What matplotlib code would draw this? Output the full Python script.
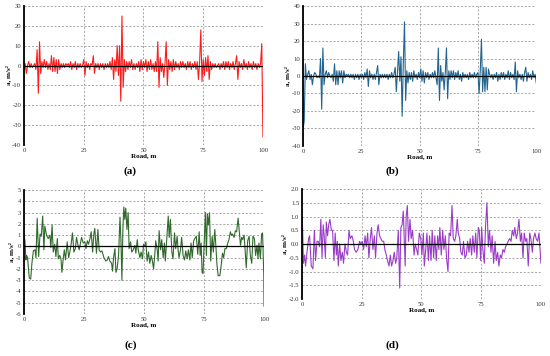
import numpy as np
import matplotlib
matplotlib.use("Agg")
import matplotlib.pyplot as plt

plt.rcParams["font.family"] = ["Liberation Serif", "DejaVu Serif"]
plt.rcParams["axes.unicode_minus"] = False

# ---- data ----
road_ab = np.arange(0, 100.01, 0.5)

accel_a = [
    -2, 1, -4, 0, 2, -1, 1, -1, 0, 1, -2, 8, -14, 12, -4, 2, -1, 3, -1, 2,
    -2, 1, -2, 5, -3, 4, -3, 3, -4, 3, -2, 1, -1, 1, -1, 1, 0, 1, -1, 2,
    -2, 1, -1, 2, -2, 1, -1, 1, -1, 0, 3, -5, 2, -1, 1, -2, 1, 0, 5, -4,
    1, -1, 1, -2, 1, -1, 1, -2, 1, -1, 1, -1, 2, -2, 4, -7, 3, -3, 10, -5,
    10, -18, 25, -11, 3, -3, 2, -2, 2, -1, 3, -2, 1, -2, 1, -1, 2, -3, 3, -2,
    2, -1, 3, -3, 2, -2, 3, -2, 1, -3, 2, -3, 12, -11, 4, -3, 1, -6, 1, 12,
    -10, 3, -2, 2, -3, 3, -2, 2, -1, 1, -2, 2, -1, 2, -1, 1, -2, 2, -1, 2,
    -2, 1, -1, 2, -2, 2, -7, 2, 18, -8, 3, -5, 4, -3, 5, -7, 2, -2, 1, -1,
    1, -1, 0, 1, -2, 1, -1, 2, -2, 2, -1, 2, -2, 1, -1, 2, -2, 1, 5, -7,
    2, -1, 1, -2, 3, -1, 1, -2, 2, -1, 1, -2, 2, -1, 1, -2, 1, -1, 1, 11,
    -36,
]

accel_b = [
    -30, -26, 7, -2, 1, 3, -2, 1, -5, 0, 2, 1, -1, 0, -1, 10, -19, 16, -5, 1,
    3, -1, 2, 0, -1, 1, -3, 7, -5, 3, -5, 3, -1, 3, -4, 3, -1, 1, 0, 1,
    -1, 1, -1, 1, -2, 1, -1, 1, -2, 1, -1, 1, -2, 2, -1, 4, -6, 3, -1, 1,
    -2, 1, -2, 2, 6, -5, 1, -1, 1, -1, 1, -1, 1, -2, 1, -1, 2, -1, 1, 5,
    -9, 3, 14, -3, 11, -23, 8, 31, -14, 3, -4, 2, -2, 2, -3, 3, -1, 1, -2, 2,
    -1, 4, -3, 3, -4, 2, -1, 2, -2, 1, -1, 2, -1, 3, -1, -5, 16, -14, 6, -3,
    2, -8, 2, 16, -13, 3, -2, 3, -1, 3, -2, 2, -1, 3, -2, 1, -3, 2, -1, 1,
    -1, 1, -2, 2, -1, 1, -1, 2, -1, 1, 2, -10, 3, 21, -9, 5, -9, 5, -8, 4,
    1, -1, 1, -2, 1, -1, 2, -3, 1, -2, 2, -1, 2, -2, 1, -1, 3, -2, 2, -1,
    1, -2, 8, -9, 3, -1, 1, -2, 1, -3, 2, 5, -3, 2, -1, 1, -2, 3, -1, 1,
    -4,
]

road_c = [
    0, 0.4, 0.8, 1.1, 1.5, 2.2, 2.8, 3.3, 3.9, 4.6, 5.0, 5.5, 6.1, 6.7, 7.2,
    7.8, 8.3, 8.7, 9.4, 10.1, 10.8, 11.2, 11.7, 12.2, 12.8, 13.3, 13.9, 14.3,
    14.9, 15.4, 15.8, 16.4, 16.8, 17.3, 18.0, 18.6, 19.1, 19.7, 20.2, 20.8,
    21.4, 21.9, 22.5, 23.0, 24.0, 24.7, 25.4, 25.8, 26.4, 26.9, 27.5, 28.0,
    28.6, 29.1, 29.5, 30.2, 30.8, 31.3, 31.9, 32.5, 33.3, 34.1, 34.7, 35.2,
    35.8, 36.5, 36.9, 37.3, 37.9, 38.3, 38.8, 39.4, 40.0, 40.4, 40.8, 41.2,
    41.6, 42.0, 42.4, 42.9, 43.4, 43.8, 44.4, 44.9, 45.5, 46.2, 46.6, 47.2,
    47.6, 48.3, 48.8, 49.4, 49.8, 50.3, 50.8, 51.3, 51.9, 52.4, 53.0, 53.5,
    54.0, 54.5, 54.9, 55.5, 55.9, 56.3, 56.9, 57.4, 58.0, 58.5, 58.9, 59.5,
    60.1, 60.5, 61.0, 61.6, 62.1, 62.7, 63.2, 63.8, 64.2, 64.6, 65.2, 65.7,
    66.3, 66.9, 67.4, 68.0, 68.5, 69.1, 69.6, 70.1, 70.7, 71.2, 71.8, 72.4,
    73.0, 73.4, 73.8, 74.2, 74.6, 75.2, 75.6, 76.0, 76.4, 76.8, 77.3, 77.8,
    78.4, 78.9, 79.5, 79.9, 80.4, 80.9, 81.6, 82.1, 82.7, 83.2, 83.7, 84.3,
    84.9, 85.4, 86.0, 86.4, 86.9, 87.5, 88.1, 88.6, 89.2, 89.6, 90.2, 90.7,
    91.1, 91.7, 92.1, 92.6, 93.2, 93.8, 94.3, 94.9, 95.4, 96.0, 96.5, 97.1,
    97.5, 97.9, 98.5, 99.0, 99.4, 99.9, 100.0,
]
accel_c = [
    1.0, 0.5, -1.2, -0.8, -1.0, -2.8, -2.9, -1.5, -0.4, -0.3, -1.0, 2.5, -0.9,
    1.1, 0.9, 2.7, -0.3, 1.8, 1.0, 0.7, 1.0, -0.1, 1.9, -0.5, 0.2, -0.9, 0.7,
    -1.1, -0.8, -1.1, -2.3, -1.0, -0.3, -1.2, 0.4, -1.0, -0.5, 0.3, 1.2,
    -0.5, -0.2, 0.8, 0.1, -0.3, 0.8, 0.3, 0.4, -0.2, 0.5, 0.2, 0.7, 1.3,
    -0.5, 1.1, 1.6, -0.6, 1.5, -0.3, -0.5, -0.4, -1.0, -1.3, -1.2, -0.9,
    -1.3, -1.5, -2.2, -1.0, -0.2, -2.3, -2.0, -0.8, 2.6, 0.5, -3.0, 1.5,
    3.5, 2.4, 3.4, 1.5, 3.0, -0.2, 0.4, -0.5, -0.3, 0.1, -0.6, 0.6, -0.3,
    -1.0, -0.5, -1.1, 0.2, 0.0, 0.4, -1.3, -0.5, -1.5, -0.8, -1.3, -2.0,
    -0.7, 0.5, -0.3, -1.3, 1.4, -0.3, 0.6, -1.0, 0.3, -1.3, 0.7, 2.7, 0.8,
    2.4, -0.5, -1.1, 1.2, -0.2, 0.9, -0.3, -1.0, -0.3, 0.8, -0.8, -1.2,
    -0.4, -1.1, -0.3, -1.2, 0.3, -1.0, 0.5, 0.7, 0.9, -0.7, 1.3, -0.8, 0.3,
    -2.3, -2.4, 1.0, 3.0, -0.8, 2.9, 1.9, 3.0, -1.3, 0.9, -0.5, 1.5, 0.2,
    -1.6, -2.6, -2.6, -1.8, -0.6, -1.0, -0.2, -0.2, 0.3, 0.6, 1.3, 1.0,
    1.1, 0.8, 1.4, 1.3, 2.5, 1.6, 0.1, 0.8, 0.6, 1.0, -0.2, -1.9, 0.5, 0.9,
    -0.8, -1.5, 0.9, 0.7, -0.8, 0.1, -1.1, 0.3, -1.1, 1.1, 1.2, -2.5, -5.3,
]

road_d = [
    0, 0.3, 0.6, 1.1, 1.5, 2.1, 2.8, 3.2, 3.9, 4.6, 5.2, 5.7, 6.3, 6.8, 7.4,
    7.9, 8.4, 8.9, 9.3, 9.8, 10.2, 10.7, 11.2, 11.7, 12.3, 12.8, 13.4, 13.9,
    14.4, 14.8, 15.2, 15.8, 16.3, 16.9, 17.4, 18.0, 18.6, 19.1, 19.7, 20.2,
    20.9, 21.5, 22.0, 22.7, 23.4, 24.1, 24.7, 25.2, 25.8, 26.4, 26.9, 27.5,
    28.0, 28.6, 29.1, 29.7, 30.3, 30.8, 31.4, 31.9, 32.5, 33.0, 33.6, 34.2,
    34.7, 35.3, 35.8, 36.4, 37.0, 37.5, 38.1, 38.6, 39.2, 39.7, 40.3, 40.9,
    41.4, 41.9, 42.4, 42.8, 43.2, 43.6, 44.1, 44.6, 45.2, 45.7, 46.3, 46.9,
    47.4, 48.0, 48.5, 49.1, 49.7, 50.2, 50.8, 51.2, 51.7, 52.3, 52.9, 53.4,
    54.0, 54.5, 55.1, 55.6, 56.2, 56.8, 57.3, 57.7, 58.3, 58.9, 59.4, 60.0,
    60.5, 61.1, 61.6, 62.2, 62.8, 63.3, 63.9, 64.4, 65.0, 65.4, 66.0, 66.5,
    67.1, 67.6, 68.2, 68.8, 69.3, 69.9, 70.4, 71.0, 71.5, 72.1, 72.7, 73.2,
    73.8, 74.2, 74.8, 75.2, 75.7, 76.3, 76.8, 77.4, 78.0, 78.5, 79.1, 79.6,
    80.2, 80.8, 81.3, 81.9, 82.4, 83.0, 83.5, 84.1, 84.7, 85.2, 85.8, 86.3,
    86.9, 87.5, 88.0, 88.6, 89.1, 89.7, 90.2, 90.8, 91.4, 91.9, 92.5, 93.0,
    93.6, 94.1, 94.7, 95.3, 95.8, 96.4, 96.9, 97.5, 98.0, 98.6, 99.2, 99.7,
    100.0,
]
accel_d = [
    1.0, 0.5, -0.7, -0.4, -0.8, -0.3, 0.2, 0.3, -0.8, -0.9, 0.5, -0.6, 0.1,
    0.1, -0.1, 0.9, -0.5, 0.7, 0.3, -0.5, 0.8, 0.3, 0.7, 0.9, 0.5, 0.5,
    -0.6, 0.4, -0.4, 0.1, -0.8, 0.0, -0.6, -0.3, -0.7, 0.0, -0.3, -0.4, 0.5,
    0.2, 0.3, 0.1, -0.2, -0.3, -0.2, 0.1, 0.0, 0.1, -0.2, 0.3, -0.1, 0.4,
    -0.5, 0.2, 0.6, -0.2, 0.3, -0.5, 0.4, 0.7, 0.3, 0.2, 0.1, 0.1, -0.2,
    -0.4, -0.6, -0.8, -0.4, -0.8, -0.6, -0.3, -0.7, -0.5, 0.5, -1.6, 0.6,
    0.7, 1.2, 0.2, -0.8, 1.0, 1.4, 0.1, 0.9, 0.2, 0.5, -0.4, 0.0, -0.2,
    -0.4, 0.4, 0.2, -0.4, 0.4, -0.8, -0.3, 0.4, -0.6, 0.3, -0.6, 0.5, -0.5,
    0.3, -0.6, 0.3, -0.2, 0.6, -0.4, 0.5, -0.2, 0.3, -0.5, -1.0, 0.4, 0.3,
    1.4, 0.2, 0.1, 0.3, 0.9, 0.4, 0.2, -0.3, -0.4, 0.1, -0.5, -0.4, 0.1,
    -0.3, 0.2, -0.4, 0.3, -0.3, 0.4, -0.5, 0.6, 0.5, -0.6, 0.6, -0.2, -0.7,
    0.6, 1.5, -0.1, 0.5, -0.3, 0.3, -0.7, 0.1, -0.6, -0.3, -0.8, -0.4,
    -0.5, -0.2, -0.3, -0.1, 0.0, 0.1, 0.2, 0.1, 0.5, 0.3, 0.6, 0.2, 0.4,
    0.9, 0.1, 0.4, -0.5, 0.4, 0.1, 0.2, -0.8, 0.4, 0.2, -0.3, 0.2, 0.4, 0.2,
    0.1, 0.4, -0.3, -0.7,
]

road_ticks = [0, 25, 50, 75, 100]


def style_axes(ax, yticks, ylim, fmt):
    ax.set_xlim(0, 100)
    ax.set_ylim(*ylim)
    ax.set_xticks(road_ticks)
    ax.set_yticks(yticks)
    ax.set_yticklabels([fmt.format(v) for v in yticks])
    ax.grid(True, color="#9a9a9a", linestyle=(0, (2.5, 2)), linewidth=0.6)
    for s in ["top", "right", "bottom"]:
        ax.spines[s].set_visible(False)
    ax.spines["left"].set_linewidth(1.3)
    ax.axhline(0, color="black", lw=0.9, zorder=3)
    ax.tick_params(length=0, labelsize=4.8, pad=2, colors="#333333")
    ax.set_xlabel("Road, m", fontsize=5, fontweight="bold", labelpad=0.5)
    ax.set_ylabel("a, m/s²", fontsize=5, fontweight="bold", labelpad=1)


fig = plt.figure(figsize=(5.5, 3.56), dpi=100)

ax_a = fig.add_axes([0.0436, 0.593, 0.4345, 0.390])
ax_a.plot(road_ab, accel_a, color="#ff1a1a", lw=0.8, zorder=2)
style_axes(ax_a, list(range(-40, 31, 10)), (-40, 30), "{:d}")

ax_b = fig.add_axes([0.551, 0.590, 0.424, 0.393])
ax_b.plot(road_ab, accel_b, color="#22648f", lw=0.8, zorder=2)
style_axes(ax_b, list(range(-40, 41, 10)), (-40, 40), "{:d}")

ax_c = fig.add_axes([0.0436, 0.118, 0.4364, 0.348])
ax_c.plot(road_c, accel_c, color="#2f6a2a", lw=0.8, zorder=2)
style_axes(ax_c, list(range(-6, 6)), (-6, 5), "{:d}")

ax_d = fig.add_axes([0.549, 0.160, 0.4345, 0.309])
ax_d.plot(road_d, accel_d, color="#9a3cc8", lw=0.8, zorder=2)
style_axes(ax_d, [v / 2 for v in range(-4, 5)], (-2, 2), "{:.1f}")

for label, x, y in [("(a)", 0.237, 0.520), ("(b)", 0.713, 0.520),
                    ("(c)", 0.237, 0.031), ("(d)", 0.713, 0.031)]:
    fig.text(x, y, label, ha="center", va="center", fontsize=8,
             fontweight="bold")

fig.savefig("out.png", dpi=100)
